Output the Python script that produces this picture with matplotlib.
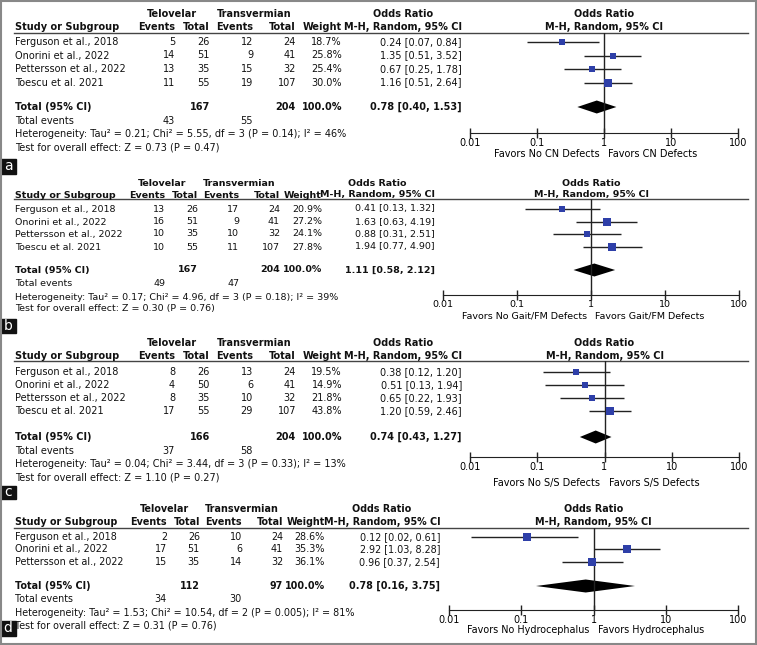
import matplotlib.pyplot as plt
from matplotlib.patches import Rectangle

# ---------------- data ----------------
studies_4 = ["Ferguson et al., 2018", "Onorini et al., 2022",
             "Pettersson et al., 2022", "Toescu et al. 2021"]
studies_3 = studies_4[:3]

# a: CN defects
tel_ev_a = [5, 14, 13, 11]
tel_n_a = [26, 51, 35, 55]
tv_ev_a = [12, 9, 15, 19]
tv_n_a = [24, 41, 32, 107]
weight_a = [18.7, 25.8, 25.4, 30.0]
or_a = [0.24, 1.35, 0.67, 1.16]
lo_a = [0.07, 0.51, 0.25, 0.51]
hi_a = [0.84, 3.52, 1.78, 2.64]
pooled_a = [0.78, 0.40, 1.53]
totals_a = [167, 204]
tot_events_a = [43, 55]
het_a = "Heterogeneity: Tau² = 0.21; Chi² = 5.55, df = 3 (P = 0.14); I² = 46%"
zt_a = "Test for overall effect: Z = 0.73 (P = 0.47)"
favors_a = ["Favors No CN Defects", "Favors CN Defects"]

# b: Gait/FM defects
tel_ev_b = [13, 16, 10, 10]
tel_n_b = [26, 51, 35, 55]
tv_ev_b = [17, 9, 10, 11]
tv_n_b = [24, 41, 32, 107]
weight_b = [20.9, 27.2, 24.1, 27.8]
or_b = [0.41, 1.63, 0.88, 1.94]
lo_b = [0.13, 0.63, 0.31, 0.77]
hi_b = [1.32, 4.19, 2.51, 4.90]
pooled_b = [1.11, 0.58, 2.12]
totals_b = [167, 204]
tot_events_b = [49, 47]
het_b = "Heterogeneity: Tau² = 0.17; Chi² = 4.96, df = 3 (P = 0.18); I² = 39%"
zt_b = "Test for overall effect: Z = 0.30 (P = 0.76)"
favors_b = ["Favors No Gait/FM Defects", "Favors Gait/FM Defects"]

# c: S/S defects
tel_ev_c = [8, 4, 8, 17]
tel_n_c = [26, 50, 35, 55]
tv_ev_c = [13, 6, 10, 29]
tv_n_c = [24, 41, 32, 107]
weight_c = [19.5, 14.9, 21.8, 43.8]
or_c = [0.38, 0.51, 0.65, 1.20]
lo_c = [0.12, 0.13, 0.22, 0.59]
hi_c = [1.20, 1.94, 1.93, 2.46]
pooled_c = [0.74, 0.43, 1.27]
totals_c = [166, 204]
tot_events_c = [37, 58]
het_c = "Heterogeneity: Tau² = 0.04; Chi² = 3.44, df = 3 (P = 0.33); I² = 13%"
zt_c = "Test for overall effect: Z = 1.10 (P = 0.27)"
favors_c = ["Favors No S/S Defects", "Favors S/S Defects"]

# d: Hydrocephalus
tel_ev_d = [2, 17, 15]
tel_n_d = [26, 51, 35]
tv_ev_d = [10, 6, 14]
tv_n_d = [24, 41, 32]
weight_d = [28.6, 35.3, 36.1]
or_d = [0.12, 2.92, 0.96]
lo_d = [0.02, 1.03, 0.37]
hi_d = [0.61, 8.28, 2.54]
pooled_d = [0.78, 0.16, 3.75]
totals_d = [112, 97]
tot_events_d = [34, 30]
het_d = "Heterogeneity: Tau² = 1.53; Chi² = 10.54, df = 2 (P = 0.005); I² = 81%"
zt_d = "Test for overall effect: Z = 0.31 (P = 0.76)"
favors_d = ["Favors No Hydrocephalus", "Favors Hydrocephalus"]

tick_vals = [0.01, 0.1, 1, 10, 100]
tick_labels = ["0.01", "0.1", "1", "10", "100"]

panels = [
    dict(letter="a", studies=studies_4, tel_ev=tel_ev_a, tel_n=tel_n_a, tv_ev=tv_ev_a, tv_n=tv_n_a,
         w=weight_a, est=or_a, lo=lo_a, hi=hi_a, pooled=pooled_a, totals=totals_a,
         tev=tot_events_a, het=het_a, zt=zt_a, fav=favors_a),
    dict(letter="b", studies=studies_4, tel_ev=tel_ev_b, tel_n=tel_n_b, tv_ev=tv_ev_b, tv_n=tv_n_b,
         w=weight_b, est=or_b, lo=lo_b, hi=hi_b, pooled=pooled_b, totals=totals_b,
         tev=tot_events_b, het=het_b, zt=zt_b, fav=favors_b),
    dict(letter="c", studies=studies_4, tel_ev=tel_ev_c, tel_n=tel_n_c, tv_ev=tv_ev_c, tv_n=tv_n_c,
         w=weight_c, est=or_c, lo=lo_c, hi=hi_c, pooled=pooled_c, totals=totals_c,
         tev=tot_events_c, het=het_c, zt=zt_c, fav=favors_c),
    dict(letter="d", studies=studies_3, tel_ev=tel_ev_d, tel_n=tel_n_d, tv_ev=tv_ev_d, tv_n=tv_n_d,
         w=weight_d, est=or_d, lo=lo_d, hi=hi_d, pooled=pooled_d, totals=totals_d,
         tev=tot_events_d, het=het_d, zt=zt_d, fav=favors_d),
]

# ---------------- layout (pixels) ----------------
layouts = [
    dict(fs=7.0, h1=14, h2=27, line=33, rows=[42, 55.5, 69, 82.5], total=107, tev=121, het=134, zt=147,
         axis=133, favy=154, box=(159, 174),
         ev1=175, n1=210, ev2=253, n2=296, wt=342, ort=462, orc=403, tel=172, tv=254, fx0=470, fx1=738),
    dict(fs=6.8, h1=183, h2=195, line=199, rows=[209, 222, 234, 247], total=270, tev=284, het=297, zt=308,
         axis=295, favy=316, box=(319, 333),
         ev1=165, n1=198, ev2=239, n2=280, wt=322, ort=435, orc=377, tel=162, tv=239, fx0=443, fx1=739),
    dict(fs=7.0, h1=343, h2=356, line=361, rows=[372, 385, 398, 411], total=437, tev=451, het=464, zt=477,
         axis=457, favy=483, box=(486, 499),
         ev1=175, n1=210, ev2=253, n2=296, wt=342, ort=462, orc=403, tel=172, tv=254, fx0=470, fx1=739),
    dict(fs=6.9, h1=509, h2=522, line=528, rows=[537, 549, 562], total=586, tev=599, het=613, zt=626,
         axis=610, favy=630, box=(621, 636),
         ev1=167, n1=200, ev2=242, n2=283, wt=325, ort=440, orc=382, tel=164, tv=242, fx0=449, fx1=738),
]

W, H = 757, 645
blue = "#2e3fa8"
fig = plt.figure(figsize=(W / 100, H / 100), dpi=100)
bg = fig.add_axes([0, 0, 1, 1])
bg.set_xlim(0, W)
bg.set_ylim(H, 0)
bg.axis("off")

for p, L in zip(panels, layouts):
    fs = L["fs"]

    def txt(x, y, s, ha="left", bold=False):
        bg.text(x, y, s, fontsize=fs, ha=ha, va="center", color="#111111",
                fontweight="bold" if bold else "normal")

    # headers
    txt(L["tel"], L["h1"], "Telovelar", "center", True)
    txt(L["tv"], L["h1"], "Transvermian", "center", True)
    txt(L["orc"], L["h1"], "Odds Ratio", "center", True)
    txt(15, L["h2"], "Study or Subgroup", bold=True)
    txt(L["ev1"], L["h2"], "Events", "right", True)
    txt(L["n1"], L["h2"], "Total", "right", True)
    txt(L["ev2"], L["h2"], "Events", "right", True)
    txt(L["n2"], L["h2"], "Total", "right", True)
    txt(L["wt"], L["h2"], "Weight", "right", True)
    txt(L["orc"], L["h2"], "M-H, Random, 95% CI", "center", True)
    fmid = (L["fx0"] + L["fx1"]) / 2
    txt(fmid, L["h1"], "Odds Ratio", "center", True)
    txt(fmid, L["h2"], "M-H, Random, 95% CI", "center", True)
    bg.plot([14, 748], [L["line"], L["line"]], color="#444444", lw=1)

    # study rows
    for i, name in enumerate(p["studies"]):
        y = L["rows"][i]
        txt(15, y, name)
        txt(L["ev1"], y, str(p["tel_ev"][i]), "right")
        txt(L["n1"], y, str(p["tel_n"][i]), "right")
        txt(L["ev2"], y, str(p["tv_ev"][i]), "right")
        txt(L["n2"], y, str(p["tv_n"][i]), "right")
        txt(L["wt"], y, f"{p['w'][i]:.1f}%", "right")
        txt(L["ort"], y, f"{p['est'][i]:.2f} [{p['lo'][i]:.2f}, {p['hi'][i]:.2f}]", "right")

    # totals
    est, lo, hi = p["pooled"]
    txt(15, L["total"], "Total (95% CI)", bold=True)
    txt(L["n1"], L["total"], str(p["totals"][0]), "right", True)
    txt(L["n2"], L["total"], str(p["totals"][1]), "right", True)
    txt(L["wt"], L["total"], "100.0%", "right", True)
    txt(L["ort"], L["total"], f"{est:.2f} [{lo:.2f}, {hi:.2f}]", "right", True)
    txt(15, L["tev"], "Total events")
    txt(L["ev1"], L["tev"], str(p["tev"][0]), "right")
    txt(L["ev2"], L["tev"], str(p["tev"][1]), "right")
    txt(15, L["het"], p["het"])
    txt(15, L["zt"], p["zt"])

    # forest plot
    ax = fig.add_axes([L["fx0"] / W, 1 - L["axis"] / H,
                       (L["fx1"] - L["fx0"]) / W, (L["axis"] - L["line"]) / H])
    ax.set_xscale("log")
    ax.set_xlim(0.01, 100)
    ax.set_ylim(L["axis"], L["line"])
    ax.patch.set_alpha(0)
    for s in ["top", "left", "right"]:
        ax.spines[s].set_visible(False)
    ax.spines["bottom"].set_color("#222222")
    ax.axvline(1, color="#222222", lw=1)
    rows = L["rows"][:len(p["est"])]
    ax.hlines(rows, p["lo"], p["hi"], color="#222222", lw=1)
    for x, y, w in zip(p["est"], rows, p["w"]):
        # square side grows with sqrt(weight), px -> pt
        ax.plot(x, y, marker="s", ms=1.35 * w ** 0.5 * 0.72, mew=0, color=blue, ls="none")
    ty = L["total"]
    ax.fill([lo, est, hi, est], [ty, ty - 6.5, ty, ty + 6.5], color="black", lw=0)
    ax.set_xticks(tick_vals)
    ax.set_xticklabels(tick_labels)
    ax.minorticks_off()
    ax.set_yticks([])
    ax.tick_params(axis="x", direction="inout", length=7, width=1, labelsize=fs, pad=0,
                   color="#222222")
    ax.annotate(p["fav"][0], (1, L["favy"]), xytext=(-3, 0), textcoords="offset points",
                ha="right", va="center", fontsize=fs, annotation_clip=False)
    ax.annotate(p["fav"][1], (1, L["favy"]), xytext=(3, 0), textcoords="offset points",
                ha="left", va="center", fontsize=fs, annotation_clip=False)

    # panel letter
    y0, y1 = L["box"]
    bg.add_patch(Rectangle((0, y0), 16, y1 - y0, color="#111111"))
    bg.text(8, (y0 + y1) / 2, p["letter"], color="white", fontsize=10, ha="center", va="center")

bg.add_patch(Rectangle((1, 1), W - 2.5, H - 2.5, fill=False, edgecolor="#888888", lw=1.5))

fig.savefig("out.png", dpi=100)
